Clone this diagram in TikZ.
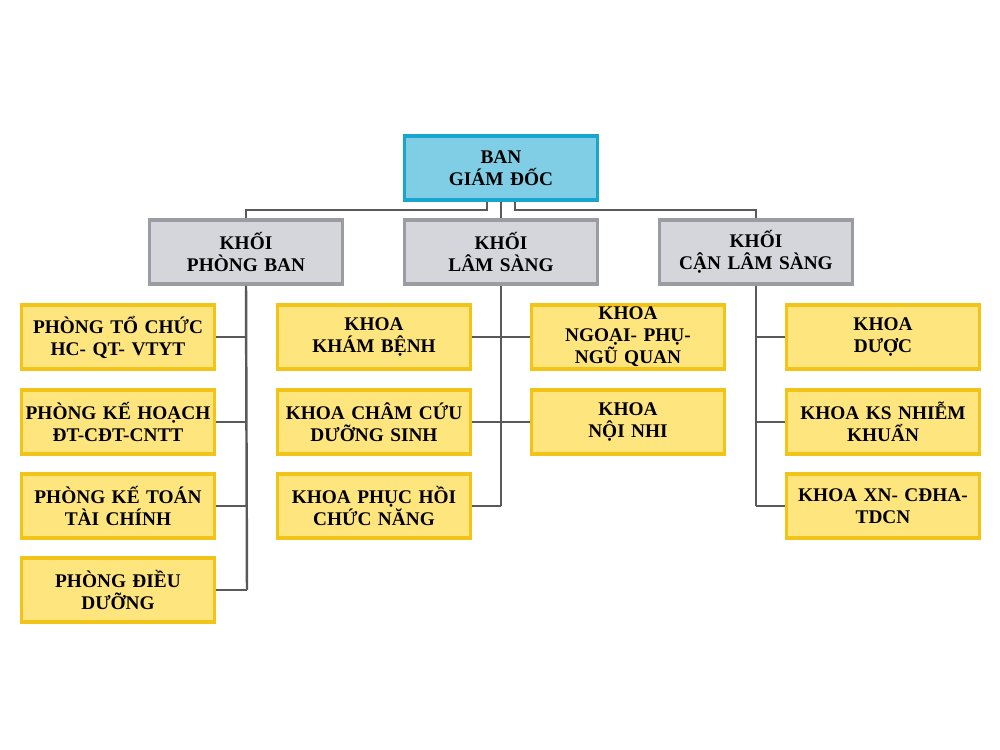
\documentclass[tikz,border=0pt]{standalone}
\usepackage{fontspec}
\setmainfont{Liberation Serif}
\usetikzlibrary{positioning,calc}
\definecolor{yfill}{HTML}{FFE57E}
\definecolor{yline}{HTML}{F2C417}
\definecolor{bfill}{HTML}{80CDE6}
\definecolor{bline}{HTML}{1AA5CE}
\definecolor{gfill}{HTML}{D4D6DB}
\definecolor{gline}{HTML}{9A9CA1}
\tikzstyle{box} = [rectangle, draw, line width=2.2pt, text centered, minimum width=3.86cm, minimum height=1.28cm, inner sep=0pt, text width=3.8cm, font=\bfseries\fontsize{11}{12.5}\selectfont]
\tikzstyle{dept} = [box, fill=yfill, draw=yline]
\tikzstyle{block} = [box, fill=gfill, draw=gline]
\tikzstyle{top} = [box, fill=bfill, draw=bline]
\tikzstyle{conn} = [draw=black!65, line width=1.4pt]

\begin{document}
\begin{tikzpicture}[x=0.02cm, y=-0.02cm]
    \useasboundingbox (0,0) rectangle (1000,750);
    \node[top] (bgd) at (501,168) {BAN\\GIÁM ĐỐC};
    \node[block] (pb) at (246,252) {KHỐI\\PHÒNG BAN};
    \node[block] (ls) at (501,252) {KHỐI\\LÂM SÀNG};
    \node[block] (cls) at (756,252) {KHỐI\\CẬN LÂM SÀNG};

    \node[dept] (tc) at (118,337) {PHÒNG TỔ CHỨC\\HC- QT- VTYT};
    \node[dept] (kh) at (118,422) {PHÒNG KẾ HOẠCH\\ĐT-CĐT-CNTT};
    \node[dept] (kt) at (118,506) {PHÒNG KẾ TOÁN\\TÀI CHÍNH};
    \node[dept] (dd) at (118,590) {PHÒNG ĐIỀU\\DƯỠNG};

    \node[dept] (kb) at (374,337) {KHOA\\KHÁM BỆNH};
    \node[dept] (cc) at (374,422) {KHOA CHÂM CỨU\\DƯỠNG SINH};
    \node[dept] (ph) at (374,506) {KHOA PHỤC HỒI\\CHỨC NĂNG};
    \node[dept] (ng) at (628,337) {KHOA NGOẠI- PHỤ-\\NGŨ QUAN};
    \node[dept] (nn) at (628,422) {KHOA\\NỘI NHI};

    \node[dept] (du) at (883,337) {KHOA\\DƯỢC};
    \node[dept] (ks) at (883,422) {KHOA KS NHIỄM\\KHUẨN};
    \node[dept] (xn) at (883,506) {KHOA XN- CĐHA-\\TDCN};

    % tu ban giam doc xuong cac khoi
    \path[conn] ([xshift=-0.28cm]bgd.south) |- ++(0,-0.16cm) -| (pb.north);
    \path[conn] ([xshift=0.28cm]bgd.south) |- ++(0,-0.16cm) -| (cls.north);
    \path[conn] (bgd.south) -- (ls.north);

    % khoi phong ban
    \coordinate (pbt) at (247,590);
    \path[conn] (pb.south) -- ([xshift=0.02cm]pb.south |- pbt);
    \foreach \n in {tc,kh,kt,dd} \path[conn] (\n.east) -- ([xshift=0.02cm]pb.south |- \n.east);

    % khoi lam sang
    \path[conn] (ls.south) -- (ls.south |- ph.east);
    \foreach \n in {kb,cc,ph} \path[conn] (\n.east) -- (ls.south |- \n.east);
    \foreach \n in {ng,nn} \path[conn] (\n.west) -- (ls.south |- \n.west);

    % khoi can lam sang
    \path[conn] (cls.south) -- (cls.south |- xn.west);
    \foreach \n in {du,ks,xn} \path[conn] (\n.west) -- (cls.south |- \n.west);
\end{tikzpicture}
\end{document}
